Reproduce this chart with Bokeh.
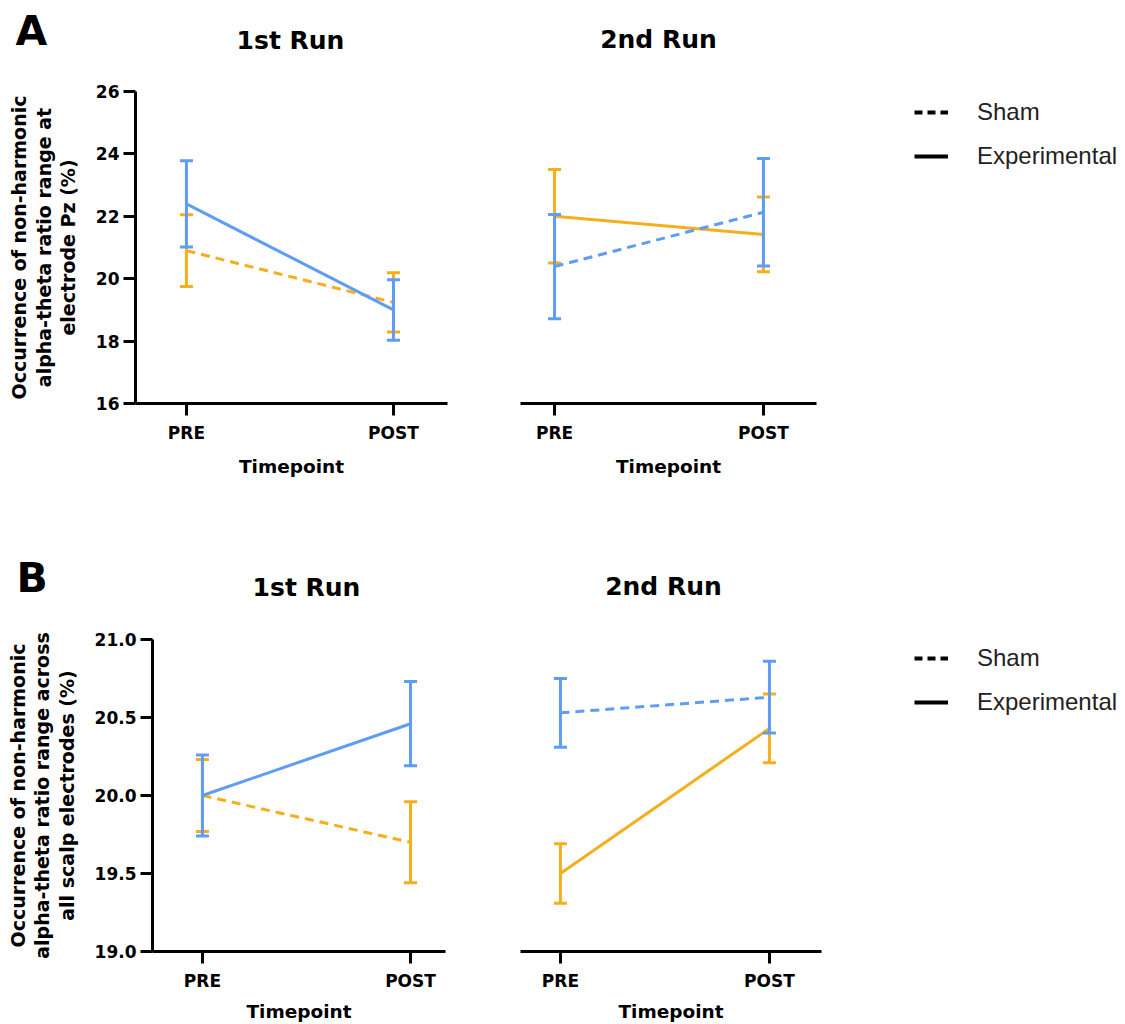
from bokeh.plotting import figure
from bokeh.models import Range1d, FixedTicker, PrintfTickFormatter, Legend, LegendItem, Label
from bokeh.layouts import row, column
from bokeh.embed import file_html
from bokeh.resources import INLINE

# ---------------- data ----------------
timepoints = ["PRE", "POST"]
x_pos = [0, 1]

# Panel A (electrode Pz)
a1_exp_mean = [22.4, 19.0]
a1_exp_err = [1.38, 0.97]
a1_sham_mean = [20.9, 19.24]
a1_sham_err = [1.15, 0.95]

a2_exp_mean = [22.0, 21.42]
a2_exp_err = [1.5, 1.2]
a2_sham_mean = [20.39, 22.13]
a2_sham_err = [1.67, 1.72]

# Panel B (all scalp electrodes)
b1_exp_mean = [20.0, 20.46]
b1_exp_err = [0.26, 0.27]
b1_sham_mean = [20.0, 19.70]
b1_sham_err = [0.23, 0.26]

b2_exp_mean = [19.50, 20.43]
b2_exp_err = [0.19, 0.22]
b2_sham_mean = [20.53, 20.63]
b2_sham_err = [0.22, 0.23]

a_yticks = [16, 18, 20, 22, 24, 26]
b_yticks = [19.0, 19.5, 20.0, 20.5, 21.0]

a_ylabel = "Occurrence of non-harmonic\nalpha-theta ratio range at\nelectrode Pz (%)"
b_ylabel = "Occurrence of non-harmonic\nalpha-theta ratio range across\nall scalp electrodes (%)"

run_titles = ["1st Run", "2nd Run"]
panel_letters = ["A", "B"]
legend_labels = ["Sham", "Experimental"]

BLUE = "#5f9cf4"
ORANGE = "#f5ae1c"
BOLD_FONT = "DejaVu Sans"


def draw_series(p, mean, err, color, dash):
    lower = [m - e for m, e in zip(mean, err)]
    upper = [m + e for m, e in zip(mean, err)]
    p.segment(x0=x_pos, y0=lower, x1=x_pos, y1=upper, line_color=color, line_width=3)
    p.scatter(x=x_pos, y=lower, marker="dash", size=13, line_color=color, line_width=3)
    p.scatter(x=x_pos, y=upper, marker="dash", size=13, line_color=color, line_width=3)
    p.line(x=x_pos, y=mean, line_color=color, line_width=3, line_dash=dash)


def make_panel(series, yr, yticks, yfmt, ylabel, width, height,
               left, right, top, bottom, xr, xlabel_standoff):
    show_y = ylabel is not None
    p = figure(width=width, height=height, output_backend="svg", toolbar_location=None,
               x_range=Range1d(*xr), y_range=Range1d(*yr),
               y_axis_location="left" if show_y else None,
               min_border_left=left, min_border_right=right,
               min_border_top=top, min_border_bottom=bottom,
               background_fill_color=None, border_fill_color=None)
    p.outline_line_color = None
    p.xgrid.visible = False
    p.ygrid.visible = False

    xa = p.xaxis[0]
    xa.ticker = FixedTicker(ticks=x_pos)
    xa.major_label_overrides = {x: t for x, t in zip(x_pos, timepoints)}
    xa.axis_label = "Timepoint"
    for ax in p.axis:
        ax.axis_line_width = 3
        ax.axis_line_color = "black"
        ax.major_tick_line_width = 3
        ax.major_tick_line_color = "black"
        ax.major_tick_in = 0
        ax.major_tick_out = 12
        ax.minor_tick_line_color = None
        ax.major_label_text_font = BOLD_FONT
        ax.major_label_text_font_style = "bold"
        ax.major_label_text_font_size = "17px"
        ax.major_label_text_color = "black"
        ax.axis_label_text_font = BOLD_FONT
        ax.axis_label_text_font_style = "bold"
        ax.axis_label_text_color = "black"
    xa.major_label_standoff = 7
    xa.axis_label_standoff = xlabel_standoff
    xa.axis_label_text_font_size = "18.5px"
    if show_y:
        ya = p.yaxis[0]
        ya.ticker = FixedTicker(ticks=yticks)
        ya.formatter = PrintfTickFormatter(format=yfmt)
        ya.axis_label = ylabel
        ya.axis_label_text_font_size = "19px"
        ya.axis_label_text_line_height = 1.1
        ya.major_label_standoff = 4
        ya.axis_label_standoff = 14

    for mean, err, color, dash in series:
        draw_series(p, mean, err, color, dash)
    return p


def make_header(width, height, letter, letter_pos, titles):
    """Strip holding the panel letter and the run titles (screen units from bottom-left)."""
    p = figure(width=width, height=height, output_backend="svg", toolbar_location=None,
               x_range=Range1d(0, 1), y_range=Range1d(0, 1),
               x_axis_location=None, y_axis_location=None,
               min_border=0, background_fill_color=None, border_fill_color=None)
    p.outline_line_color = None
    p.grid.visible = False
    p.add_layout(Label(x=letter_pos[0], y=letter_pos[1], x_units="screen", y_units="screen",
                       text=letter, text_font=BOLD_FONT, text_font_style="bold",
                       text_font_size="41px", text_color="black", text_baseline="alphabetic"))
    for text, (tx, ty) in titles:
        p.add_layout(Label(x=tx, y=ty, x_units="screen", y_units="screen", text=text,
                           text_font=BOLD_FONT, text_font_style="bold", text_font_size="25px",
                           text_color="black", text_align="center", text_baseline="alphabetic"))
    return p


def make_legend(width, height, top, bottom, left, margin):
    # frame top/bottom match the neighbouring panels (rows align frames)
    p = figure(width=width, height=height, output_backend="svg", toolbar_location=None,
               x_range=Range1d(0, 1), y_range=Range1d(0, 1),
               x_axis_location=None, y_axis_location=None,
               min_border_left=left, min_border_top=top, min_border_right=0,
               min_border_bottom=bottom,
               background_fill_color=None, border_fill_color=None)
    p.outline_line_color = None
    p.grid.visible = False
    # single-point lines: nothing is drawn in the frame, only the legend swatch
    r_sham = p.line(x=[0.5], y=[0.5], line_color="black", line_width=4, line_dash="8 5")
    r_exp = p.line(x=[0.5], y=[0.5], line_color="black", line_width=4)
    leg = Legend(items=[LegendItem(label=legend_labels[0], renderers=[r_sham]),
                        LegendItem(label=legend_labels[1], renderers=[r_exp])],
                 location="top_left", margin=margin, padding=0, spacing=16,
                 glyph_width=34, glyph_height=20, label_standoff=29,
                 label_text_font="Liberation Sans", label_text_font_size="24px",
                 label_text_color="#222222",
                 border_line_color=None, background_fill_alpha=0)
    p.add_layout(leg, "center")
    return p


HEAD_H = 60
ROW1_H = 488
ROW2_H = 416

ha = make_header(1125, HEAD_H, panel_letters[0], (15, 30),
                 [(run_titles[0], (290, 20)), (run_titles[1], (658, 21))])
a1 = make_panel([(a1_sham_mean, a1_sham_err, ORANGE, "9 6"), (a1_exp_mean, a1_exp_err, BLUE, "solid")],
                (16, 26), a_yticks, "%d", a_ylabel, 480, ROW1_H, 135, 33, 31, 145,
                (-0.246, 1.261), 10)
a2 = make_panel([(a2_exp_mean, a2_exp_err, ORANGE, "solid"), (a2_sham_mean, a2_sham_err, BLUE, "9 6")],
                (16, 26), a_yticks, "%d", None, 350, ROW1_H, 40, 14, 31, 145,
                (-0.163, 1.254), 10)
la = make_legend(295, ROW1_H, 31, 145, 77, 7)

hb = make_header(1125, HEAD_H, panel_letters[1], (16, 31),
                 [(run_titles[0], (306, 21)), (run_titles[1], (663, 22))])
b1 = make_panel([(b1_sham_mean, b1_sham_err, ORANGE, "9 6"), (b1_exp_mean, b1_exp_err, BLUE, "solid")],
                (19, 21), b_yticks, "%.1f", b_ylabel, 480, ROW2_H, 152, 35, 31, 73,
                (-0.240, 1.168), 7)
b2 = make_panel([(b2_exp_mean, b2_exp_err, ORANGE, "solid"), (b2_sham_mean, b2_sham_err, BLUE, "9 6")],
                (19, 21), b_yticks, "%.1f", None, 350, ROW2_H, 40, 9, 31, 73,
                (-0.191, 1.249), 7)
lb = make_legend(295, ROW2_H, 31, 73, 79, 5)

layout = column(ha, row(a1, a2, la), hb, row(b1, b2, lb))

with open("out.html", "w") as f:
    f.write(file_html(layout, INLINE))
